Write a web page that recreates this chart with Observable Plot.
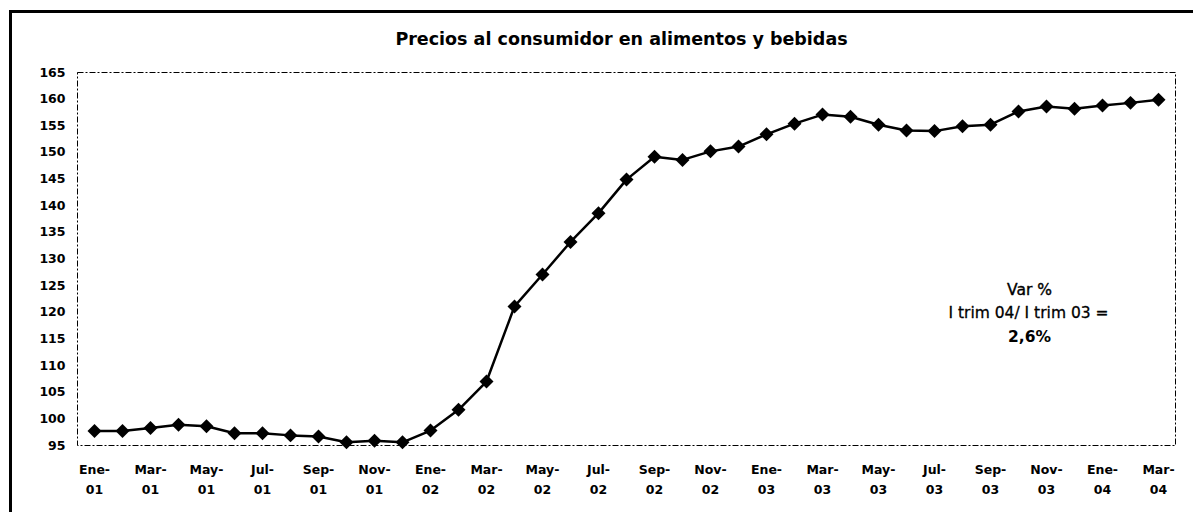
<!DOCTYPE html>
<html>
<head>
<meta charset="utf-8">
<script src="https://cdn.jsdelivr.net/npm/d3@7"></script>
<script src="https://cdn.jsdelivr.net/npm/@observablehq/plot@0.6"></script>
<style>
  html, body { margin: 0; padding: 0; background: #fff; overflow: hidden; }
  #wrap { position: relative; width: 1193px; height: 512px; }
  #border { position: absolute; left: 9px; top: 10px; width: 1220px; height: 540px;
            border: 3px solid #000; box-sizing: border-box; pointer-events: none; }
  svg { font-family: "DejaVu Sans", sans-serif; }
</style>
</head>
<body>
<div id="wrap"><div id="border"></div></div>
<script>
const titleText = "Precios al consumidor en alimentos y bebidas";

const periods = [
  "Ene-01","Feb-01","Mar-01","Abr-01","May-01","Jun-01","Jul-01","Ago-01","Sep-01","Oct-01","Nov-01","Dic-01",
  "Ene-02","Feb-02","Mar-02","Abr-02","May-02","Jun-02","Jul-02","Ago-02","Sep-02","Oct-02","Nov-02","Dic-02",
  "Ene-03","Feb-03","Mar-03","Abr-03","May-03","Jun-03","Jul-03","Ago-03","Sep-03","Oct-03","Nov-03","Dic-03",
  "Ene-04","Feb-04","Mar-04"
];

const values = [
  97.7, 97.7, 98.3, 98.9, 98.6, 97.3, 97.3, 96.9, 96.7, 95.6, 95.9, 95.6,
  97.8, 101.7, 107.0, 121.1, 127.1, 133.2, 138.6, 144.9, 149.2, 148.6, 150.2, 151.1,
  153.4, 155.4, 157.1, 156.7, 155.2, 154.1, 154.0, 154.9, 155.2, 157.7, 158.6, 158.2,
  158.8, 159.3, 159.9
];

const xTickLabels = periods.filter((d, i) => i % 2 === 0);
const yTicks = [95,100,105,110,115,120,125,130,135,140,145,150,155,160,165];

const annotLine1 = "Var %";
const annotLine2 = "I trim 04/ I trim 03 =";
const annotLine3 = "2,6%";

const data = periods.map((p, i) => ({period: p, value: values[i]}));

const chart = Plot.plot({
  width: 1193,
  height: 512,
  marginLeft: 77,
  marginRight: 18,
  marginTop: 72,
  marginBottom: 67,
  style: {fontFamily: "'DejaVu Sans', sans-serif", color: "#000", background: "transparent"},
  x: {type: "point", domain: periods, padding: 0.5, label: null},
  y: {domain: [95, 165], label: null},
  marks: [
    Plot.frame({stroke: "#000", strokeWidth: 1, strokeDasharray: "6,2,2,2"}),
    Plot.axisY({ticks: yTicks, tickSize: 0, tickPadding: 12, fontSize: 12.5, fontWeight: "bold", label: null, tickFormat: d => String(d)}),
    Plot.axisX({ticks: xTickLabels, tickSize: 0, tickPadding: 14, fontSize: 12.5, fontWeight: "bold", label: null,
                lineHeight: 1.6, tickFormat: d => d.replace("-", "-\n")}),
    Plot.line(data, {x: "period", y: "value", stroke: "#000", strokeWidth: 2.5}),
    Plot.dot(data, {x: "period", y: "value", symbol: "diamond2", r: 6.3, fill: "#000", stroke: "none"}),
    Plot.text([titleText], {frameAnchor: "top", dx: -5, dy: -40, text: d => d, fontSize: 17.5, fontWeight: "bold", fill: "#000"}),
    Plot.text([annotLine1], {frameAnchor: "right", textAnchor: "middle", dx: -146, dy: 31, text: d => d, fontSize: 15.5, fill: "#000", stroke: "#000", strokeWidth: 0.4}),
    Plot.text([annotLine2], {frameAnchor: "right", textAnchor: "middle", dx: -147, dy: 54, text: d => d, fontSize: 15.5, fill: "#000", stroke: "#000", strokeWidth: 0.3}),
    Plot.text([annotLine3], {frameAnchor: "right", textAnchor: "middle", dx: -146, dy: 78, text: d => d, fontSize: 15.5, fontWeight: "bold", fill: "#000"})
  ]
});

document.getElementById("wrap").insertBefore(chart, document.getElementById("border"));
</script>
</body>
</html>
